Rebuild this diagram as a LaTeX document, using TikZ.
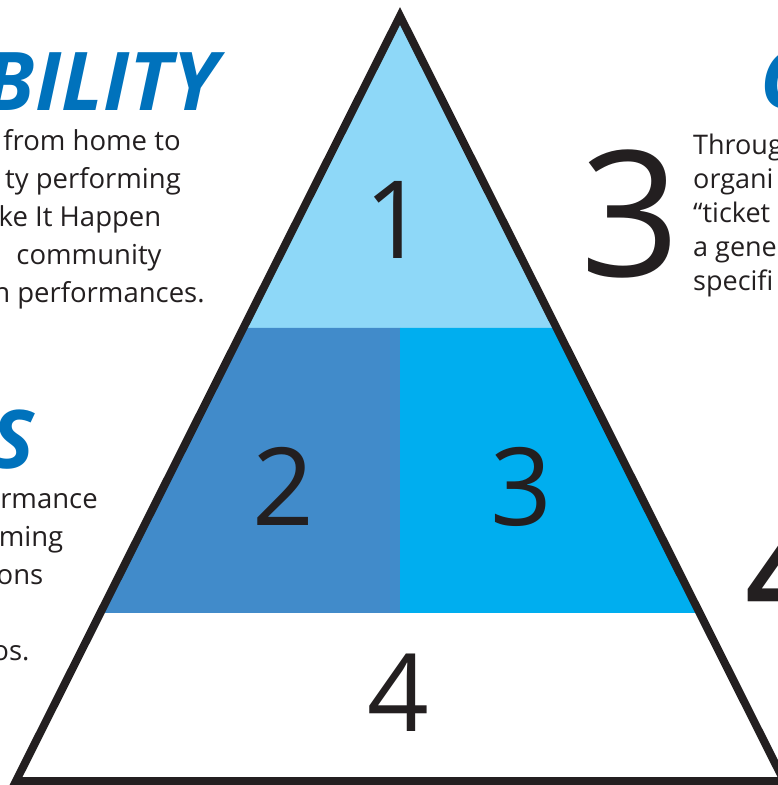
\documentclass[tikz,border=0pt]{standalone}
\usepackage{fontspec}
\setmainfont{Open Sans}
\usetikzlibrary{calc}

\definecolor{toptint}{HTML}{8ED8F8}
\definecolor{midblue}{HTML}{418BCA}
\definecolor{cyanband}{HTML}{00AEEF}
\definecolor{inkdark}{HTML}{231F20}
\definecolor{headblue}{HTML}{0072BC}

\begin{document}
\begin{tikzpicture}[
    x=1pt, y=-1pt,
    every node/.style={inner sep=0pt, text=inkdark},
    levelnum/.style={font=\fontsize{108}{108}\selectfont},
    sidenum/.style={font=\fontsize{175}{175}\selectfont},
    bodyline/.style={font=\fontsize{27.5}{38}\selectfont, anchor=base},
    sideline/.style={font=\fontsize{27}{34}\selectfont, anchor=base west},
    headline/.style={font=\fontsize{81}{81}\selectfont\bfseries\itshape, text=headblue},
    outline/.style={draw=inkdark, line width=8pt, miter limit=20}
]
\useasboundingbox (0,0) rectangle (778,785);
\clip (0,0) rectangle (778,785);

% pyramid corners
\coordinate (apex) at (400,16);
\coordinate (baseL) at (16,781);
\coordinate (baseR) at (784,781);
\coordinate (cutL1) at ($(apex)!0.4078!(baseL)$);
\coordinate (cutR1) at ($(apex)!0.4078!(baseR)$);
\coordinate (cutL2) at ($(apex)!0.7804!(baseL)$);
\coordinate (cutR2) at ($(apex)!0.7804!(baseR)$);
\coordinate (splitT) at ($(cutL1)!0.5!(cutR1)$);
\coordinate (splitB) at ($(cutL2)!0.5!(cutR2)$);

% bands
\fill[toptint] (apex) -- (cutL1) -- (cutR1) -- cycle;
\fill[midblue] (cutL1) -- (cutL2) -- (splitB) -- (splitT) -- cycle;
\fill[cyanband] (splitT) -- (splitB) -- (cutR2) -- (cutR1) -- cycle;
\fill[white] (cutL2) -- (baseL) -- (baseR) -- (cutR2) -- cycle;
\draw[outline] (apex) -- (baseL) -- (baseR) -- cycle;

% level numbers
\node[levelnum] (lvlone) at (395,220) {1};
\node[levelnum] (lvltwo) at (283,486) {2};
\node[levelnum] (lvlthree) at (521,487) {3};
\node[levelnum] (lvlfour) at (398,693) {4};

% left column
\node[headline, anchor=base east] (headA) at (218,110) {BILITY};
\node[bodyline] (txtA1) at (92,150) {from home to};
\node[bodyline] (txtA2) at (93,188) {ty performing};
\node[bodyline] (txtA3) at (80,226) {ke It Happen};
\node[bodyline] (txtA4) at (89,264) {community};
\node[bodyline] (txtA5) at (99,302) {n performances.};

\node[headline, anchor=base east] (headB) at (35,468) {S};
\node[bodyline] (txtB1) at (49,508) {rmance};
\node[bodyline] (txtB2) at (31,546) {ming};
\node[bodyline] (txtB3) at (20,584) {ons};
\node[bodyline] (txtB4) at (11,660) {os.};

% right column
\node[headline, anchor=base west] (headC) at (760,108) {C};
\node[sidenum] (bigthree) at (631,214) {3};
\node[sideline] (txtC1) at (693,154) {Throug};
\node[sideline] (txtC2) at (693,188) {organi};
\node[sideline] (txtC3) at (693,222) {“ticket};
\node[sideline] (txtC4) at (693,256) {a gene};
\node[sideline] (txtC5) at (693,290) {specifi};
\node[sidenum, anchor=base west] (bigfour) at (744,630) {4};

\end{tikzpicture}
\end{document}
